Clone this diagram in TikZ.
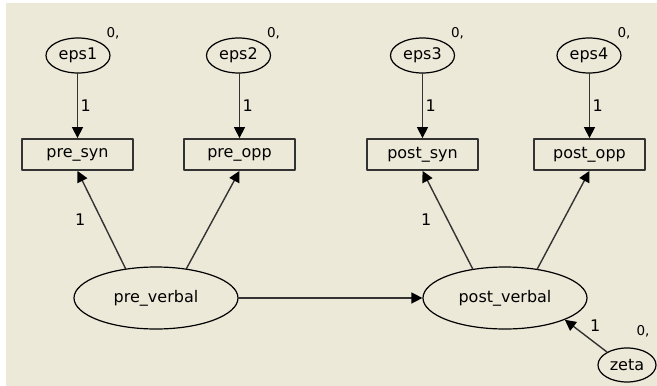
\documentclass[tikz,border=0pt]{standalone}
\usepackage{fontspec}
\setmainfont{DejaVu Sans}
\usetikzlibrary{arrows.meta,shapes.geometric,calc}
\definecolor{amosbg}{HTML}{ECE9D8}
\definecolor{edgegray}{HTML}{333333}

\begin{document}
\begin{tikzpicture}[x=1pt, y=-1pt, line cap=round, line join=round,
  >={Triangle[length=11pt,width=11pt,color=black]},
  font=\fontsize{16}{19}\selectfont,
  obs/.style={draw=edgegray, line width=1.8pt, minimum width=111pt,
    minimum height=31pt, inner sep=0pt},
  err/.style={ellipse, draw, line width=1.2pt, minimum width=64pt,
    minimum height=35pt, inner sep=0pt},
  lat/.style={ellipse, draw, line width=1.2pt, minimum width=164pt,
    minimum height=62pt, inner sep=0pt},
  link/.style={->, draw=edgegray, line width=1.4pt},
  wt/.style={inner sep=2.5pt},
  var/.style={font=\fontsize{13.5}{15}\selectfont, inner sep=0pt}]

  % ── Canvas ───────────────────────────────────────────────────────────────────
  \useasboundingbox (0,0) rectangle (657,386);
  \fill[white]  (0,0) rectangle (657,386);
  \fill[amosbg] (6,3) rectangle (657,386);

  % ── Error terms ──────────────────────────────────────────────────────────────
  \node[err] (e1) at (78,55.5)  {eps1};
  \node[err] (e2) at (238.5,55.5) {eps2};
  \node[err] (e3) at (422.5,55.5) {eps3};
  \node[err] (e4) at (589,55.5) {eps4};

  % ── Observed variables ───────────────────────────────────────────────────────
  \node[obs] (ps) at (77.5,154.5)  {pre\_syn};
  \node[obs] (po) at (239.5,154.5) {pre\_opp};
  \node[obs] (qs) at (422.5,154.5) {post\_syn};
  \node[obs] (qo) at (589.5,154.5) {post\_opp};

  % ── Latent variables ─────────────────────────────────────────────────────────
  \node[lat] (prv) at (156,298) {pre\_verbal};
  \node[lat] (pov) at (505,298) {post\_verbal};
  \node[err, minimum width=58pt, minimum height=34pt] (zeta) at (627,365) {zeta};

  % Variances
  \foreach \e in {e1,e2,e3,e4}
    \node[var] at ($(\e)+(35,-22)$) {0,};
  \node[var] at ($(zeta)+(16,-34)$) {0,};

  % ── Paths ────────────────────────────────────────────────────────────────────
  \draw[link] (e1.south -| ps) -- node[wt, right] {1} (ps);
  \draw[link] (e2.south -| po) -- node[wt, right] {1} (po);
  \draw[link] (e3) -- node[wt, right] {1} (qs);
  \draw[link] (e4.south -| qo) -- node[wt, right] {1} (qo);

  \draw[link] (prv.136) -- node[wt, left=13pt] {1} (ps.south);
  \draw[link] (prv.44)  -- (po.south);
  \draw[link] (pov.138) -- node[wt, left=13pt] {1} (qs.south);
  \draw[link] (pov.42)  -- (qo.south);

  \draw[link] (prv.east) -- (pov.west);
  \draw[link] (zeta.147) -- node[wt, above right=1pt] {1} (pov.-20);

\end{tikzpicture}
\end{document}
